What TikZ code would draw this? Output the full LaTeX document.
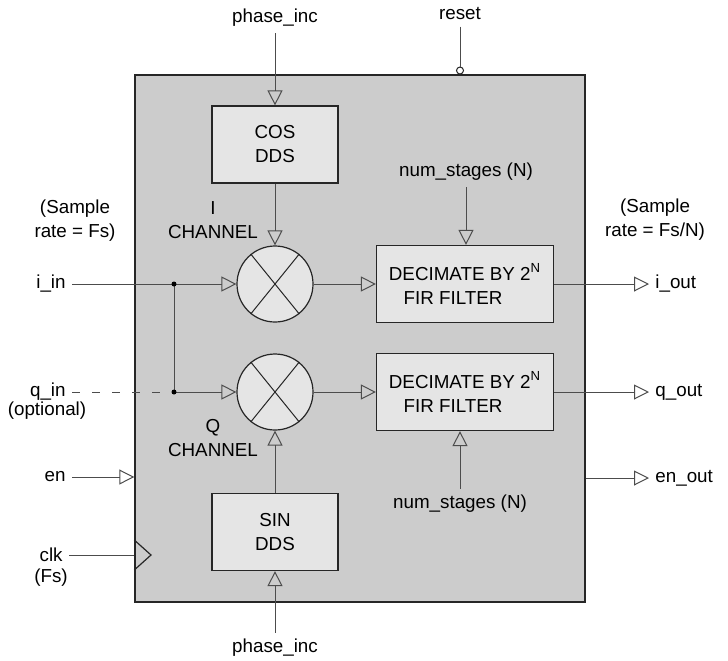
\documentclass[tikz,border=0pt]{standalone}
\usepackage{fontspec}
\setmainfont{Liberation Sans}
\usetikzlibrary{arrows.meta,positioning}

\tikzset{
  wire/.style={draw=black!70, line width=0.5pt},
  sig/.style={wire, -{Triangle[open,length=7.5pt,width=7.5pt]}},
  chip/.style={draw=black!85, fill=black!20, line width=0.7pt, inner sep=0pt,
    minimum width=225pt, minimum height=263.5pt},
  blk/.style={draw=black!85, fill=black!10, line width=0.6pt, align=center,
    minimum width=63pt, minimum height=38.5pt},
  mix/.style={circle, draw=black!85, fill=black!10, line width=0.6pt,
    minimum size=38pt, inner sep=0pt},
  lbl/.style={align=center, inner sep=3pt},
}

\begin{document}
\begin{tikzpicture}[x=0.5pt,y=-0.5pt,font=\fontsize{9.4}{12}\selectfont]

\useasboundingbox (0,0) rectangle (728,660);

\node[chip] (dut) at (360,338.5) {};
\draw[draw=black!85, line width=0.6pt] (dut.west |- 0,540) -- (151,555) -- (dut.west |- 0,570);

\node[blk] (cos) at (275,144.5) {COS\\DDS};
\node[blk] (sin) at (275,532) {SIN\\DDS};

\foreach \n/\y in {i/284,q/392} {
  \node[mix] (m\n) at (275,\y) {};
  \draw[draw=black!85, line width=0.5pt] (m\n.129) -- (m\n.-51) (m\n.51) -- (m\n.-129);
  \node[blk, minimum width=88.5pt] (f\n) at (465,\y) {DECIMATE BY 2\textsuperscript{N}\\FIR FILTER\hspace*{12pt}};
  \draw[sig] (m\n) -- (f\n);
  \node[lbl, anchor=west] (out\n) at (649,\y) {\n\_out};
  \draw[sig] (f\n) -- (out\n);
}

\node[lbl] (srin) at (75,221) {(Sample\\rate = Fs)};
\node[lbl] (srout) at (655,220) {(Sample\\rate = Fs/N)};
\node[lbl] (ich) at (213,220) {I\\CHANNEL};
\node[lbl] (qch) at (213,438) {Q\\CHANNEL};

\node[lbl, anchor=east] (iin) at (72,284) {i\_in};
\node[lbl, anchor=east] (qin) at (72,392) {q\_in};
\node[lbl] (qopt) at (47,411) {(optional)};
\coordinate (ji) at (174,284);
\coordinate (jq) at (174,392);
\draw[sig] (iin) -- (mi);
\draw[wire] (ji) -- (jq);
\draw[wire, dash pattern=on 4pt off 6pt] (qin) -- (jq);
\draw[sig] (jq) -- (mq);
\fill[black] (ji) circle (2.5) (jq) circle (2.5);

\node[lbl, anchor=east] (en) at (72,477) {en};
\draw[sig] (en) -- (en -| dut.west);
\node[lbl, anchor=east] (clk) at (69,555) {clk};
\node[lbl] (fs) at (51,578) {(Fs)};
\draw[wire] (clk) -- (clk -| dut.west);

\node[lbl, anchor=west] (enout) at (649,478) {en\_out};
\draw[sig] (enout -| dut.east) -- (enout);

\node[lbl] (pinc1) at (275,18) {phase\_inc};
\draw[sig] (pinc1) -- (cos);
\draw[sig] (cos) -- (mi);
\node[lbl] (pinc2) at (275,648) {phase\_inc};
\draw[sig] (pinc2) -- (sin);
\draw[sig] (sin) -- (mq);

\node[lbl] (ns1) at (466,172) {num\_stages (N)};
\draw[sig] (ns1) -- (ns1 |- fi.north);
\node[lbl] (ns2) at (460,504) {num\_stages (N)};
\draw[sig] (ns2) -- (ns2 |- fq.south);

\node[lbl] (rst) at (460,14) {reset};
\node[circle, draw=black!85, fill=white, line width=0.5pt, inner sep=0pt, minimum size=3.5pt] (rstc) at (460,70.5) {};
\draw[wire] (rst) -- (rstc);

\end{tikzpicture}
\end{document}
